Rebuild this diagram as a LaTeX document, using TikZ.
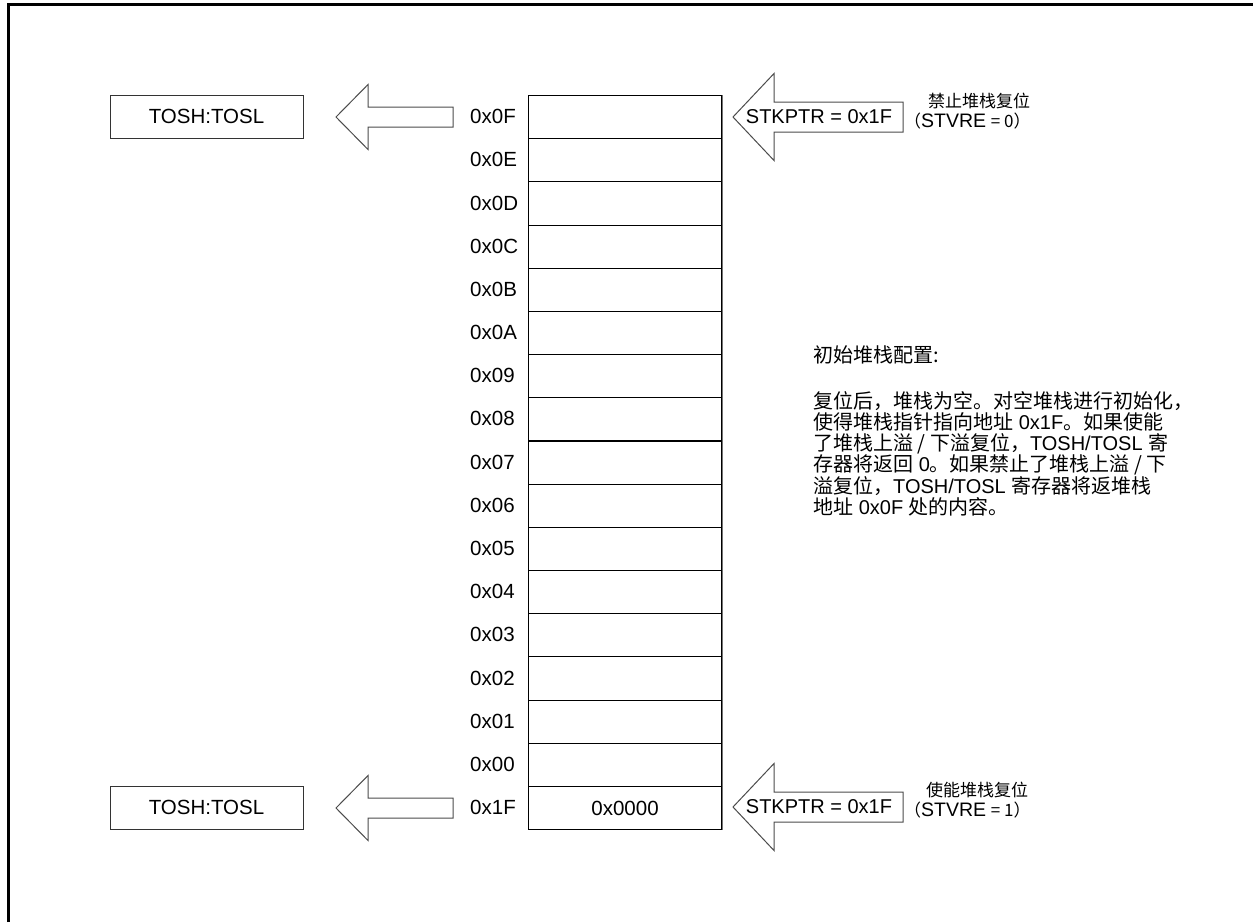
\documentclass[tikz,border=0pt]{standalone}
\usepackage{fontspec}
\setmainfont{Liberation Sans}
\newfontfamily\cjk{Noto Sans CJK SC}
\newcommand\sidelatfont{\fontsize{19.5}{20}\selectfont}
\begin{document}
\begin{tikzpicture}[x=1pt,y=-1pt,
  cell/.style={draw=black,line width=1.1pt,minimum width=193pt,minimum height=43.18pt,inner sep=0pt,anchor=north west},
  addr/.style={inner sep=0pt,anchor=west,font=\fontsize{20.5}{24}\selectfont},
  tosbox/.style={draw=black!80,line width=1pt,minimum width=193pt,minimum height=43pt,inner sep=0pt,font=\fontsize{20.5}{24}\selectfont},
  blockarrow/.style={draw=black!70,line width=1pt,fill=white,line join=miter},
  ptrtext/.style={inner sep=0pt,font=\fontsize{20}{24}\selectfont},
  side/.style={inner sep=0pt,anchor=west,font=\fontsize{17}{20}\selectfont},
  para/.style={inner sep=0pt,anchor=west,font=\fontsize{20}{21}\selectfont}]
\useasboundingbox (0,0) rectangle (1253,922);
% outer frame (cropped)
\draw[line width=3pt] (8.5,922) -- (8.5,4.5) -- (1253,4.5);
% stack
\foreach \lab [count=\i from 0] in {0x0F,0x0E,0x0D,0x0C,0x0B,0x0A,0x09,0x08,0x07,0x06,0x05,0x04,0x03,0x02,0x01,0x00,0x1F} {
  \node[cell] (r\i) at (528,{95+43.18*\i}) {};
  \node[addr] (a\i) at (470,{95+43.18*(\i+0.5)}) {\lab};
}
\draw[black!55,line width=1.2pt] (r0.north east) -- (r16.south east);
\node[inner sep=0pt,font=\fontsize{20.5}{24}\selectfont] (v16) at (r16.center) {0x0000};
% TOS boxes
\node[tosbox] (tostop) at (206.5,116.5) {TOSH:TOSL};
\node[tosbox] (tosbot) at (206.5,807.5) {TOSH:TOSL};
% left hollow arrows
\draw[blockarrow] (336,117) -- (368,84.5) -- (368,107) -- (453,107) -- (453,127) -- (368,127) -- (368,149.5) -- cycle;
\draw[blockarrow] (336,808) -- (368,775.5) -- (368,798) -- (453,798) -- (453,818) -- (368,818) -- (368,840.5) -- cycle;
% right hollow arrows
\draw[blockarrow] (733,117) -- (774,73.5) -- (774,102) -- (903,102) -- (903,132) -- (774,132) -- (774,160.5) -- cycle;
\draw[blockarrow] (733,807) -- (774,763.5) -- (774,792) -- (903,792) -- (903,822) -- (774,822) -- (774,850.5) -- cycle;
\node[ptrtext] (ptop) at (819,117) {STKPTR = 0x1F};
\node[ptrtext] (pbot) at (819,807) {STKPTR = 0x1F};
% side notes
\node[side] (s1) at (928,101) {\cjk 禁止堆栈复位};
\node[side] (s2) at (904,121) {{\cjk （}{\sidelatfont STVRE} {\cjk = 0）}};
\node[side] (s3) at (926,790) {\cjk 使能堆栈复位};
\node[side] (s4) at (904,810) {{\cjk （}{\sidelatfont STVRE} {\cjk = 1）}};
% description
\node[para] (p0) at (813,355) {\cjk 初始堆栈配置:};
\node[para] (p1) at (813,401) {\cjk 复位后，堆栈为空。对空堆栈进行初始化，};
\node[para] (p2) at (813,422) {{\cjk 使得堆栈指针指向地址} 0x1F{\cjk 。如果使能}};
\node[para] (p3) at (813,443.5) {{\cjk 了堆栈上溢 / 下溢复位，}TOSH/TOSL {\cjk 寄}};
\node[para] (p4) at (813,465) {{\cjk 存器将返回} 0{\cjk 。如果禁止了堆栈上溢 / 下}};
\node[para] (p5) at (813,486) {{\cjk 溢复位，}TOSH/TOSL {\cjk 寄存器将返堆栈}};
\node[para] (p6) at (813,507) {{\cjk 地址} 0x0F {\cjk 处的内容。}};
\end{tikzpicture}
\end{document}
